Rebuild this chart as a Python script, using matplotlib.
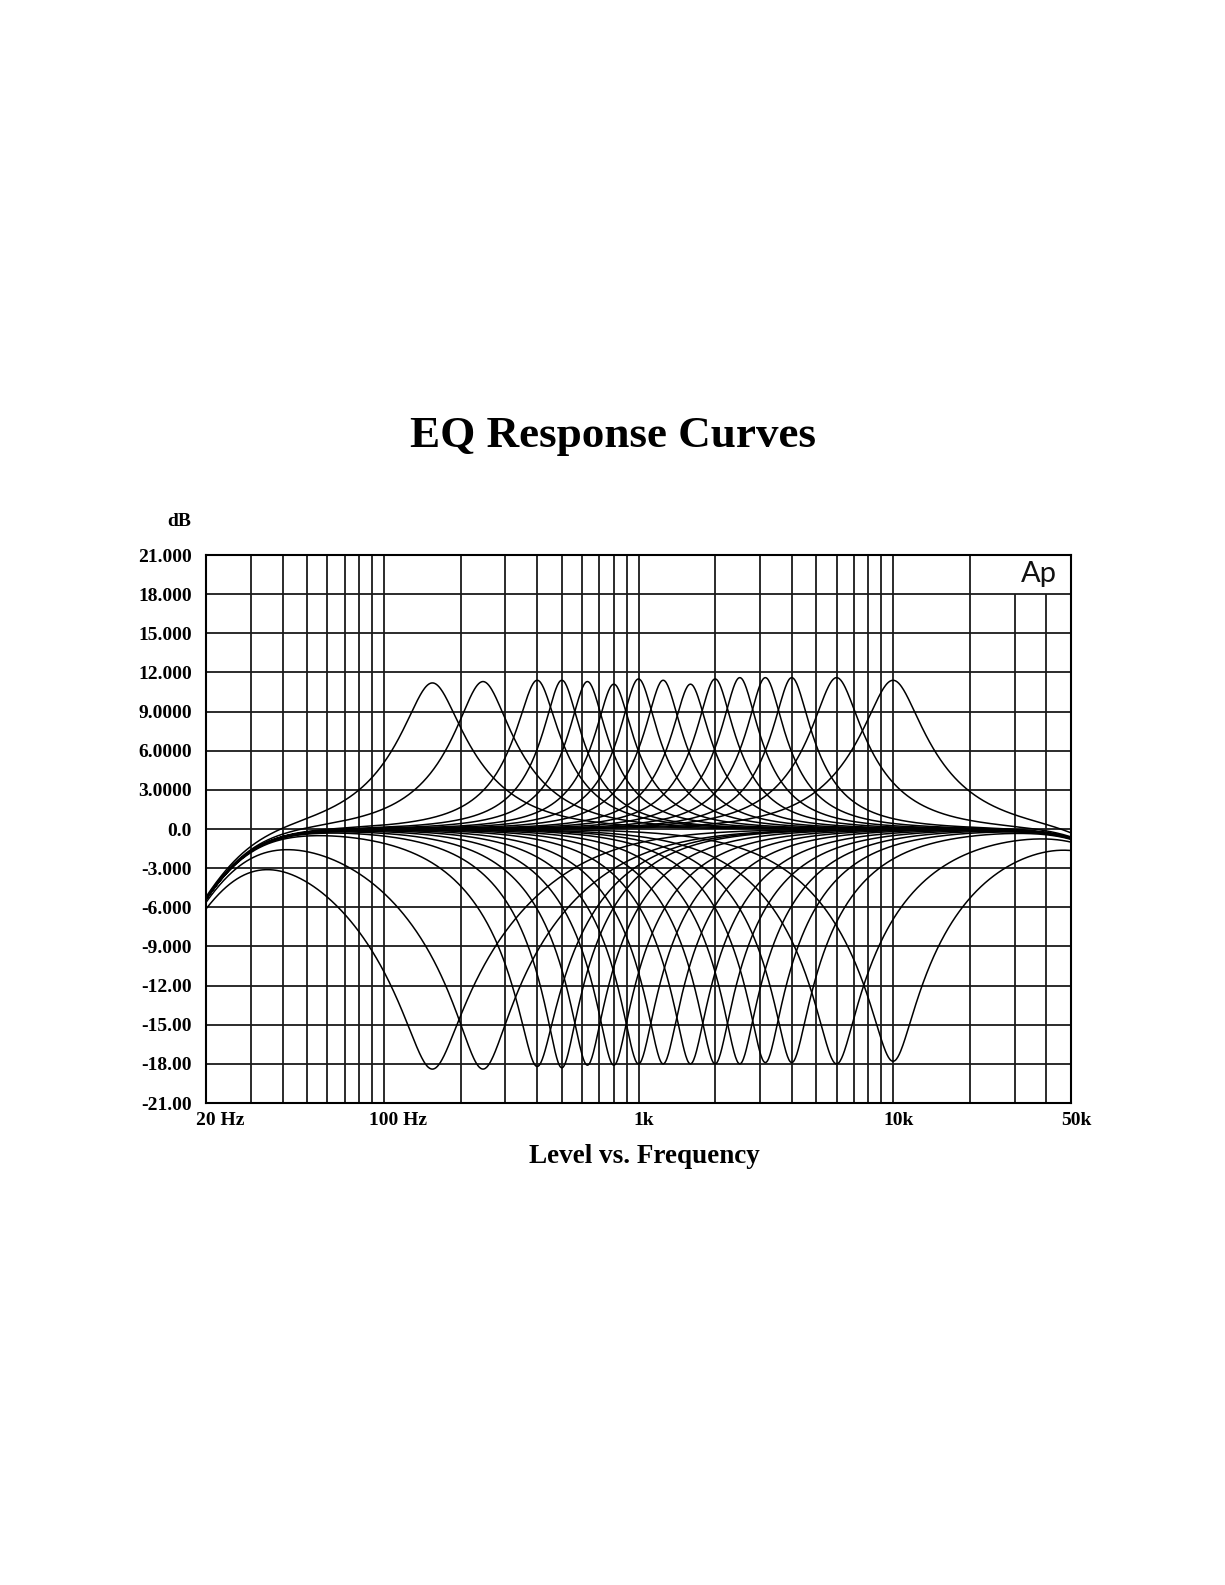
import numpy as np
import matplotlib
matplotlib.use("Agg")
import matplotlib.pyplot as plt
import matplotlib.transforms as mtransforms

# Band centres, read from where the peaks / dips sit (Hz)
band_centers = [155, 245, 400, 500, 630, 800, 1000, 1250, 1600, 2000, 2500, 3150, 4000, 6000, 10000]
# Peak level of each boost curve (dB)
boost_db = [11.2, 11.3, 11.4, 11.4, 11.3, 11.1, 11.5, 11.4, 11.1, 11.5, 11.6, 11.6, 11.6, 11.6, 11.4]
# Dip level of each cut curve (dB)
cut_db = [-18.4, -18.4, -18.2, -18.3, -18.1, -18.1, -18.0, -18.0, -18.0, -18.0, -18.0, -17.9, -17.9, -18.0, -17.8]
# Width of each curve at half its level (octaves)
boost_bw = [1.15, 1.05, 0.8, 0.7, 0.7, 0.7, 0.7, 0.7, 0.7, 0.7, 0.7, 0.7, 0.72, 0.95, 1.15]
cut_bw = [1.6, 1.45, 1.0, 0.86, 0.86, 0.86, 0.86, 0.86, 0.86, 0.86, 0.86, 0.86, 0.9, 1.1, 1.2]
# Band limits of the unit (2nd order)
hpf_hz = 25.0
lpf_hz = 77000.0

y_ticks = [21, 18, 15, 12, 9, 6, 3, 0, -3, -6, -9, -12, -15, -18, -21]
y_labels = ["21.000", "18.000", "15.000", "12.000", "9.0000", "6.0000", "3.0000", "0.0",
            "-3.000", "-6.000", "-9.000", "-12.00", "-15.00", "-18.00", "-21.00"]
x_ticks = [20, 100, 1000, 10000, 50000]
x_labels = ["20 Hz", "100 Hz", "1k", "10k", "50k"]
grid_freqs = [30, 40, 50, 60, 70, 80, 90, 100, 200, 300, 400, 500, 600, 700, 800, 900,
              1000, 2000, 3000, 4000, 5000, 6000, 7000, 8000, 9000, 10000, 20000, 30000, 40000]
logo_freqs = [30000, 40000]   # these stop under the Ap box


def peaking_db(f, fc, gain_db, bw_oct):
    A = 10 ** (gain_db / 40.0)
    Q = 1.0 / (2 * np.sinh(np.log(2) / 2 * bw_oct))
    w = f / fc
    num = (1 - w ** 2) ** 2 + (w * A / Q) ** 2
    den = (1 - w ** 2) ** 2 + (w / (A * Q)) ** 2
    return 10 * np.log10(num / den)


def limits_db(f):
    x = f / hpf_hz
    hp = 10 * np.log10(x ** 4 / (1 + x ** 4))
    x = f / lpf_hz
    lp = 10 * np.log10(1 / (1 + x ** 4))
    return hp + lp


plt.rcParams['font.family'] = ['Liberation Serif', 'DejaVu Serif']

fig = plt.figure(figsize=(12.25, 15.85), dpi=100)
ax = fig.add_axes([206 / 1225, 482 / 1585, 865 / 1225, 548 / 1585])

freqs = np.geomspace(20, 50000, 1200)
base = limits_db(freqs)
for fc, gb, gc, bwb, bwc in zip(band_centers, boost_db, cut_db, boost_bw, cut_bw):
    ax.plot(freqs, base + peaking_db(freqs, fc, gb, bwb), color='black', lw=1.1, zorder=3)
    ax.plot(freqs, base + peaking_db(freqs, fc, gc, bwc), color='black', lw=1.1, zorder=3)

ax.set_xscale('log')
ax.set_xlim(20, 50000)
ax.set_ylim(-21, 21)

# grid drawn by hand so the logo box can interrupt it
for y in y_ticks[1:-1]:
    ax.axhline(y, color='#1a1a1a', lw=1.3, zorder=1)
for f in grid_freqs:
    top = 18 if f in logo_freqs else 21
    ax.vlines(f, -21, top, color='#1a1a1a', lw=1.3, zorder=1)

for s in ax.spines.values():
    s.set_linewidth(1.5)

ax.set_yticks(y_ticks)
ax.set_yticklabels(y_labels, fontsize=14, fontweight='bold')
ax.set_xticks([])
ax.minorticks_off()
ax.tick_params(axis='y', length=0, pad=10)
ax.tick_params(axis='x', which='both', length=0, labelbottom=False)

# x labels: the number part is centred on the tick
trans = mtransforms.blended_transform_factory(ax.transData, ax.transAxes)
for xt, lbl in zip(x_ticks, x_labels):
    n_digits = len(lbl.split()[0].rstrip('k'))
    dx = -n_digits * 0.5 * 14 / 2
    off = mtransforms.ScaledTranslation(dx / 72, -6.5 / 72, fig.dpi_scale_trans)
    ax.text(xt, 0, lbl, transform=trans + off, ha='left', va='top',
            fontsize=14, fontweight='bold')

ax.text(37500, 19.55, 'Ap', ha='center', va='center', fontsize=21,
        family=['Lato', 'DejaVu Sans'], fontweight='normal', color='#111111', zorder=4)

fig.text(0.5, 1 - 447 / 1585, 'EQ Response Curves', ha='center', va='baseline',
         fontsize=32.5, fontweight='bold')
fig.text(191 / 1225, 1 - 526 / 1585, 'dB', ha='right', va='baseline',
         fontsize=14, fontweight='bold')
fig.text(644 / 1225, 1 - 1163 / 1585, 'Level vs. Frequency', ha='center', va='baseline',
         fontsize=19.5, fontweight='bold')

fig.savefig('out.png', dpi=100)
